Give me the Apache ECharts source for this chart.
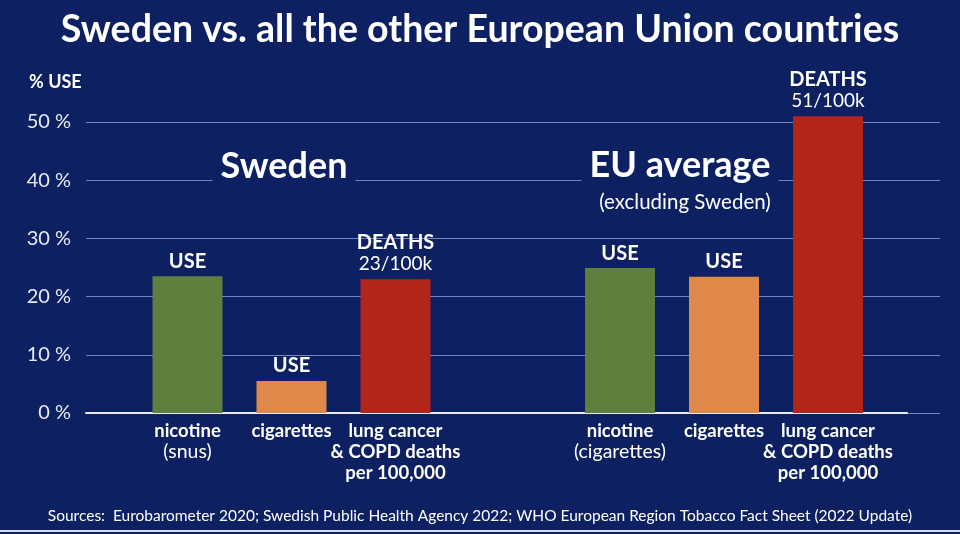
<!DOCTYPE html>
<html>
<head>
<meta charset="utf-8">
<script src="https://cdn.jsdelivr.net/npm/echarts@6/dist/echarts.min.js"></script>
<style>
  html, body { margin: 0; padding: 0; background: #0c2062; }
  #main { width: 960px; height: 534px; }
</style>
</head>
<body>
<div id="main"></div>
<script>
var myChart = echarts.init(document.getElementById('main'));

// categories (bold line + small line under it)
var swedenCats = ['nicotine', 'cigarettes', 'lung cancer\n& COPD deaths\nper 100,000'];
var swedenSubs = ['(snus)', '', ''];
var euCats = ['nicotine', 'cigarettes', 'lung cancer\n& COPD deaths\nper 100,000'];
var euSubs = ['(cigarettes)', '', ''];

// values, % use (deaths per 100k plotted on same scale)
var swedenValues = [23.5, 5.5, 23];
var euValues = [24.9, 23.4, 51];

// labels above bars
var swedenTags = ['USE', 'USE', 'DEATHS'];
var swedenNotes = ['', '', '23/100k'];
var euTags = ['USE', 'USE', 'DEATHS'];
var euNotes = ['', '', '51/100k'];

var barColors = ['#5f7f3f', '#e0874a', '#b3251b'];
var font = 'Lato';

function makeData(values) {
    return values.map(function (v, i) {
        return { value: v, itemStyle: { color: barColors[i] } };
    });
}

function catLabel(cats, subs) {
    return function (value, idx) {
        var s = cats[idx].split('\n').map(function (l) { return '{b|' + l + '}'; }).join('\n');
        if (subs[idx]) s += '\n{r|' + subs[idx] + '}';
        return s;
    };
}

function barLabel(tags, notes) {
    return function (p) {
        var s = '{t|' + tags[p.dataIndex] + '}';
        if (notes[p.dataIndex]) s += '\n{n|' + notes[p.dataIndex] + '}';
        return s;
    };
}

var catRich = {
    b: { color: '#ffffff', fontFamily: font, fontWeight: 'bold', fontSize: 18.5, lineHeight: 21 },
    r: { color: '#ffffff', fontFamily: font, fontSize: 19.5, lineHeight: 19 }
};
var barRich = {
    t: { color: '#ffffff', fontFamily: font, fontWeight: 'bold', fontSize: 20, lineHeight: 22 },
    n: { color: '#ffffff', fontFamily: font, fontSize: 19, lineHeight: 22 }
};

var option = {
    backgroundColor: '#0c2062',
    animation: false,
    title: [{
        text: 'Sweden vs. all the other European Union countries',
        left: 'center', top: 6,
        textStyle: { color: '#ffffff', fontFamily: font, fontWeight: 'bold', fontSize: 37.5 }
    }, {
        text: '% USE',
        left: 24, top: 68,
        textStyle: { color: '#ffffff', fontFamily: font, fontWeight: 'bold', fontSize: 18 }
    }, {
        text: 'Sweden',
        left: 276, top: 148, textAlign: 'center',
        backgroundColor: '#0c2062', padding: [0, 8],
        textStyle: { color: '#ffffff', fontFamily: font, fontWeight: 'bold', fontSize: 36 }
    }, {
        text: 'EU average',
        left: 672, top: 147, textAlign: 'center',
        backgroundColor: '#0c2062', padding: [0, 8],
        textStyle: { color: '#ffffff', fontFamily: font, fontWeight: 'bold', fontSize: 36 }
    }, {
        text: '(excluding Sweden)',
        left: 680, top: 187, textAlign: 'center',
        textStyle: { color: '#ffffff', fontFamily: font, fontWeight: 'normal', fontSize: 20.5 }
    }, {
        text: 'Sources:  Eurobarometer 2020; Swedish Public Health Agency 2022; WHO European Region Tobacco Fact Sheet (2022 Update)',
        left: 'center', top: 503,
        textStyle: { color: '#ffffff', fontFamily: font, fontWeight: 'normal', fontSize: 15.5 }
    }],
    grid: [
        { left: 86, right: 20, top: 122, bottom: 121 },
        { left: 86, right: 53, top: 122, bottom: 121 },
        { left: 135.5, width: 312, top: 63.8, bottom: 121 },
        { left: 568, width: 312, top: 63.8, bottom: 121 }
    ],
    xAxis: [
        { gridIndex: 0, type: 'category', data: [''], show: false },
        { gridIndex: 1, type: 'category', data: [''], axisTick: { show: false }, axisLabel: { show: false },
          axisLine: { lineStyle: { color: '#e8ecf8', width: 2 } } },
        { gridIndex: 2, type: 'category', data: swedenCats, axisLine: { show: false }, axisTick: { show: false },
          axisLabel: { interval: 0, margin: 8, formatter: catLabel(swedenCats, swedenSubs), rich: catRich } },
        { gridIndex: 3, type: 'category', data: euCats, axisLine: { show: false }, axisTick: { show: false },
          axisLabel: { interval: 0, margin: 8, formatter: catLabel(euCats, euSubs), rich: catRich } }
    ],
    yAxis: [
        { gridIndex: 0, type: 'value', min: 0, max: 50, interval: 10,
          axisLine: { show: false }, axisTick: { show: false },
          axisLabel: { formatter: '{value} %', color: '#e6eaf5', fontFamily: font, fontSize: 20, margin: 15 },
          splitLine: { lineStyle: { color: '#7485c4', width: 1.2 } } },
        { gridIndex: 1, type: 'value', min: 0, max: 50, show: false },
        { gridIndex: 2, type: 'value', min: 0, max: 60, show: false },
        { gridIndex: 3, type: 'value', min: 0, max: 60, show: false }
    ],
    series: [{
        type: 'bar', xAxisIndex: 2, yAxisIndex: 2,
        barWidth: 70,
        data: makeData(swedenValues),
        label: { show: true, position: 'top', distance: 4, formatter: barLabel(swedenTags, swedenNotes), rich: barRich }
    }, {
        type: 'bar', xAxisIndex: 3, yAxisIndex: 3,
        barWidth: 70,
        data: makeData(euValues),
        label: { show: true, position: 'top', distance: 4, formatter: barLabel(euTags, euNotes), rich: barRich }
    }],
    graphic: [{
        type: 'rect', left: 0, bottom: 2,
        shape: { width: 960, height: 2 },
        style: { fill: '#d8def0' }
    }]
};
myChart.setOption(option);
</script>
</body>
</html>
